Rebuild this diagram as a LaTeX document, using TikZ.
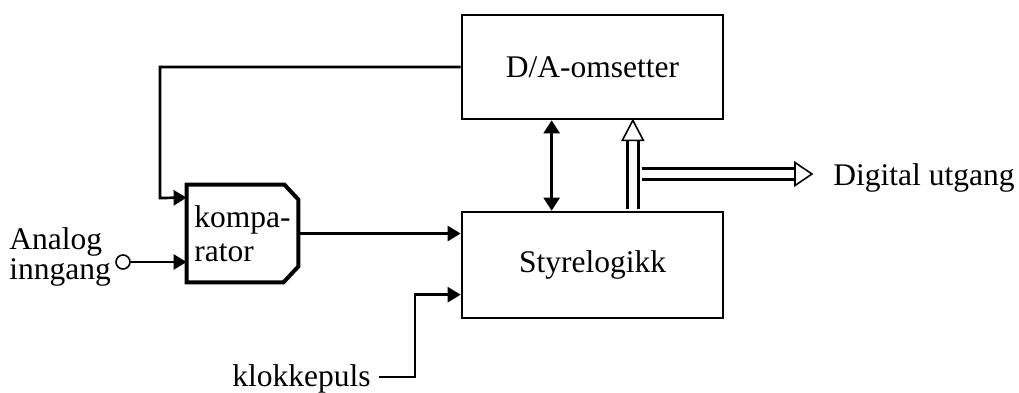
\documentclass[tikz,border=0pt]{standalone}
\usepackage{fontspec}
\setmainfont{Liberation Serif}
\usetikzlibrary{arrows.meta,calc}
\begin{document}
\begin{tikzpicture}[x=0.5pt,y=-0.5pt,
  every node/.style={font=\fontsize{15.75}{15}\selectfont, inner sep=0pt},
  box/.style={draw, line width=1.35pt, minimum width=130.5pt, inner sep=0pt},
  compbox/.style={minimum width=55.5pt, minimum height=48.5pt, align=left,
    font=\fontsize{15.75}{17}\selectfont},
  compline/.style={line width=2pt, line join=miter},
  conn/.style={line width=1.35pt, -{Triangle[length=6.5pt,width=7.5pt]}},
  biconn/.style={line width=1.35pt, {Triangle[length=6.5pt,width=8pt]}-{Triangle[length=6.5pt,width=8pt]}},
  bus/.style={double, line width=1.65pt, double distance=4pt},
  opentri/.style={draw, fill=white, line width=0.8pt, line join=miter}
]
\useasboundingbox (0,0) rectangle (1019,392);

% blocks
\node[box, minimum height=52pt] (da) at (592.5,67) {D/A-omsetter};
\node[box, minimum height=53pt] (sty) at (592.5,265) {Styrelogikk};
\node[compbox] (komp) at (242.5,233.5) {kompa-\\rator};
\draw[compline] (komp.north west) -- ($(komp.north east)+(-14,0)$)
  -- ($(komp.north east)+(0,15)$) -- ($(komp.south east)+(0,-16)$)
  -- ($(komp.south east)+(-15,0)$) -- (komp.south west) -- cycle;

% labels
\node[anchor=west, align=left] (alab) at (9,257) {Analog\\inngang};
\node[circle, draw, line width=0.8pt, minimum size=7pt] (ain) at (123,262) {};
\node[anchor=base east] (clk) at (371,386) {klokkepuls};
\node[anchor=base west] (dout) at (833,185) {Digital utgang};

% helper coordinates
\coordinate (kin1) at ($(komp.north west)+(0,13)$);
\coordinate (fbx) at (160,198);
\coordinate (sin2) at ($(sty.north west)+(0,84)$);
\coordinate (clkstart) at (379,377);
\coordinate (clkbend) at (415,377);
\coordinate (busbot) at ($(sty.north west)+(172.2,-1.2)$);
\coordinate (bustop) at ($(da.south west)+(172.2,20)$);
\coordinate (bustip) at ($(da.south west)+(172.2,0)$);
\coordinate (hbstart) at (641.5,174);
\coordinate (hbend) at (795,174);
\coordinate (hbtip) at (812,174);

% connectors
\draw[conn] (da.west) -| (fbx) -- (kin1);
\draw[conn] (ain.east) -- (komp.west |- ain.east);
\draw[conn] (komp.east) -- (komp.east -| sty.west);
\draw[conn] (clkstart) -- (clkbend) |- (sin2);
\draw[biconn] ($(da.south west)+(91,0)$) -- ($(sty.north west)+(91,0)$);

% bus
\draw[bus] (busbot) -- (bustop);
\draw[opentri] ($(bustop)+(-10.5,0)$) -- ($(bustop)+(10.5,0)$) -- (bustip) -- cycle;
\draw[bus] (hbstart) -- (hbend);
\draw[opentri] ($(hbend)+(0,-11.5)$) -- ($(hbend)+(0,11.5)$) -- (hbtip) -- cycle;
\end{tikzpicture}
\end{document}
